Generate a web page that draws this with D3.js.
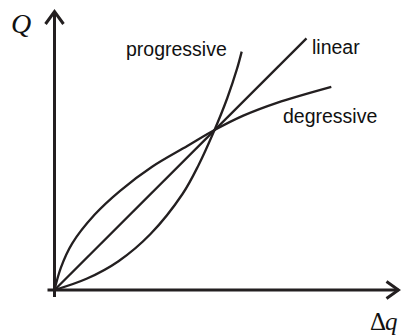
<!DOCTYPE html>
<html><head><meta charset="utf-8">
<script src="https://cdn.jsdelivr.net/npm/d3@7"></script>
<style>html,body{margin:0;padding:0;background:#fff;}svg{display:block;}</style>
</head><body>
<script>
// Data (units: intersection point = (1,1))
const linX = [0, 1.575];
const linY = [0, 1.573];
const progX = [0, 0.2, 0.4, 0.6, 0.8, 0.9, 1.00, 1.08, 1.14, 1.17];
const progY = [0, 0.07, 0.18, 0.35, 0.60, 0.78, 1.00, 1.20, 1.38, 1.49];
const degX = [0, 0.04, 0.11, 0.25, 0.41, 0.61, 0.83, 1.00, 1.18, 1.39, 1.73];
const degY = [0, 0.14, 0.29, 0.47, 0.62, 0.77, 0.90, 1.00, 1.09, 1.17, 1.27];
const seriesNames = ["linear", "progressive", "degressive"];
const axisLabels = ["Q", "Δ", "q"];

const W = 401, H = 335;
const ink = "#231f20";
const svg = d3.select("body").append("svg").attr("width", W).attr("height", H);

const x = d3.scaleLinear().domain([0, 2.15]).range([54.5, 398.5]);
const y = d3.scaleLinear().domain([0, 1.75]).range([290, 10]);

// axes
const g = svg.append("g").attr("stroke", ink).attr("fill", "none").attr("stroke-width", 3);
g.append("line").attr("x1", x(0)).attr("x2", x(0)).attr("y1", y(0) + 7).attr("y2", y(1.75) + 1);
g.append("line").attr("x1", x(0) - 7).attr("x2", x(2.15)).attr("y1", y(0)).attr("y2", y(0));
g.append("path").attr("stroke-linejoin", "miter")
  .attr("d", `M${x(0)-9},${y(1.75)+14} L${x(0)},${y(1.75)+1.5} L${x(0)+9},${y(1.75)+14}`);
g.append("path").attr("stroke-linejoin", "miter")
  .attr("d", `M${x(2.15)-12},${y(0)-8.5} L${x(2.15)},${y(0)} L${x(2.15)-12},${y(0)+8.5}`);

// curves
const line = d3.line().x(d => x(d[0])).y(d => y(d[1])).curve(d3.curveCatmullRom.alpha(0.5));
const cg = svg.append("g").attr("stroke", ink).attr("fill", "none").attr("stroke-width", 2.3);
cg.append("path").attr("d", line(linX.map((v, i) => [v, linY[i]])));
cg.append("path").attr("d", line(progX.map((v, i) => [v, progY[i]])));
cg.append("path").attr("d", line(degX.map((v, i) => [v, degY[i]])));

// series labels
const lab = svg.append("g").attr("font-family", "'Liberation Sans', Arial, sans-serif")
  .attr("font-size", 19.5).attr("fill", "#111");
lab.append("text").attr("x", 312).attr("y", 54).text(seriesNames[0]);
lab.append("text").attr("x", 126).attr("y", 56).text(seriesNames[1]);
lab.append("text").attr("x", 283).attr("y", 123).text(seriesNames[2]);

// axis labels
svg.append("text").attr("x", 11).attr("y", 33)
  .attr("font-family", "'Liberation Serif', 'Times New Roman', serif")
  .attr("font-style", "italic").attr("font-size", 28).attr("fill", "#111").text(axisLabels[0]);
const t = svg.append("text").attr("x", 370).attr("y", 330)
  .attr("font-family", "'Liberation Serif', 'Times New Roman', serif")
  .attr("font-size", 25).attr("fill", "#111");
t.append("tspan").text(axisLabels[1]);
t.append("tspan").attr("font-style", "italic").attr("dx", -1).text(axisLabels[2]);
</script>
</body></html>
